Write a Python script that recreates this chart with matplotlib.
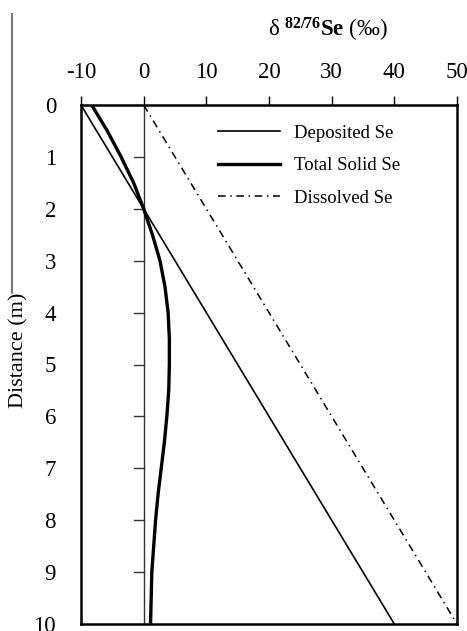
import numpy as np
import matplotlib
matplotlib.use('Agg')
import matplotlib.pyplot as plt
from matplotlib.lines import Line2D

plt.rcParams.update({
    'font.family': 'Liberation Serif',
    'mathtext.fontset': 'custom',
    'mathtext.rm': 'Liberation Serif',
    'mathtext.it': 'Liberation Serif:italic',
    'mathtext.bf': 'Liberation Serif:bold',
})

# Depth profiles of delta 82/76 Se (permil) versus distance (m)
depth_lines = [0, 10]
deposited = [-10, 40]
dissolved = [0, 50]

depth_solid = [0, 0.5, 1, 1.5, 2, 2.5, 3, 3.5, 4, 4.5, 5, 5.5, 6, 6.5,
               7, 7.5, 8, 8.5, 9, 9.5, 10]
total_solid = [-8.3, -5.8, -3.6, -1.6, 0.0, 1.4, 2.6, 3.4, 3.9, 4.1, 4.1,
               4.0, 3.7, 3.3, 2.8, 2.3, 1.9, 1.6, 1.3, 1.2, 1.1]

x_ticks = [-10, 0, 10, 20, 30, 40, 50]
y_ticks = list(range(0, 11))

fig = plt.figure(figsize=(4.67, 6.31), dpi=100)
ax = fig.add_axes([81 / 467, 1 - 624 / 631, 376 / 467, 519 / 631])

ax.plot(deposited, depth_lines, color='black', lw=1.2, label='Deposited Se')
ax.plot(total_solid, depth_solid, color='black', lw=2.4, label='Total Solid Se',
        solid_joinstyle='round')
ax.plot(dissolved, depth_lines, color='black', lw=1.1,
        linestyle=(0, (5, 3, 1, 3)), label='Dissolved Se')

# zero reference line carrying the depth ticks
ax.axvline(0, color='#333333', lw=1.0, zorder=1)
for d in y_ticks[1:-1]:
    ax.plot([-1.6, 0], [d, d], color='#333333', lw=1.0, zorder=1)

ax.set_xlim(-10, 50)
ax.set_ylim(10, 0)
ax.xaxis.tick_top()
ax.set_xticks(x_ticks)
ax.set_xticklabels([str(v) for v in x_ticks])
ax.set_yticks(y_ticks)
ax.tick_params(axis='x', direction='out', length=6.5, width=1.0, pad=9,
               labelsize=16.5)
ax.tick_params(axis='y', length=0, pad=18, labelsize=16.5)
for s in ax.spines.values():
    s.set_linewidth(1.8)

fig.text(0.703, 0.952, r'δ $^{\mathbf{82/76}}$$\mathbf{Se}$ (‰)',
         ha='center', va='center', fontsize=16.5)
fig.text(0.041, 0.445, 'Distance (m)', rotation=90, ha='center', va='center',
         fontsize=16)

# stray rule at the left edge
fig.add_artist(Line2D([12 / 467, 12 / 467], [1 - 14 / 631, 1 - 293 / 631],
                      color='#777777', lw=1.5))

ax.legend(loc='upper left', bbox_to_anchor=(0.32, 0.995), frameon=False,
          fontsize=13.5, handlelength=3.3, handletextpad=0.75,
          labelspacing=0.82)

fig.savefig('out.png', dpi=100)
